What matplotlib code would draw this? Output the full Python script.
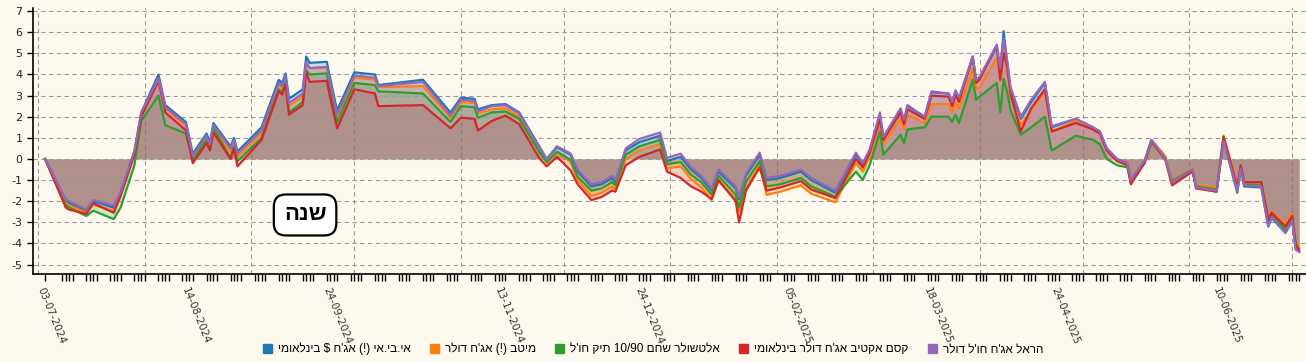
import re
import pandas as pd
import matplotlib
matplotlib.use("Agg")
import matplotlib.pyplot as plt
from matplotlib.patches import Patch

# yearly return chart, 5 funds (values in %)
dates = ["2024-07-03", "2024-07-09", "2024-07-10", "2024-07-15", "2024-07-17", "2024-07-23",
         "2024-07-25", "2024-07-29", "2024-07-31", "2024-08-05", "2024-08-07", "2024-08-13",
         "2024-08-15", "2024-08-19", "2024-08-20", "2024-08-21", "2024-08-26", "2024-08-27",
         "2024-08-28", "2024-09-04", "2024-09-09", "2024-09-10", "2024-09-11", "2024-09-12",
         "2024-09-16", "2024-09-17", "2024-09-18", "2024-09-23", "2024-09-24", "2024-09-26",
         "2024-10-01", "2024-10-07", "2024-10-08", "2024-10-21", "2024-10-29", "2024-11-01",
         "2024-11-05", "2024-11-06", "2024-11-10", "2024-11-14", "2024-11-18", "2024-11-24",
         "2024-11-26", "2024-11-29", "2024-12-03", "2024-12-05", "2024-12-09", "2024-12-12",
         "2024-12-15", "2024-12-16", "2024-12-19", "2024-12-23", "2024-12-29", "2024-12-31",
         "2025-01-04", "2025-01-07", "2025-01-10", "2025-01-13", "2025-01-15", "2025-01-20",
         "2025-01-21", "2025-01-23", "2025-01-27", "2025-01-29", "2025-02-02", "2025-02-08",
         "2025-02-11", "2025-02-18", "2025-02-24", "2025-02-26", "2025-02-28", "2025-03-03",
         "2025-03-04", "2025-03-09", "2025-03-10", "2025-03-11", "2025-03-16", "2025-03-18",
         "2025-03-23", "2025-03-24", "2025-03-25", "2025-03-26", "2025-03-30", "2025-03-31",
         "2025-04-01", "2025-04-06", "2025-04-07", "2025-04-08", "2025-04-09", "2025-04-10",
         "2025-04-13", "2025-04-16", "2025-04-20", "2025-04-22", "2025-04-29", "2025-05-04",
         "2025-05-06", "2025-05-08", "2025-05-11", "2025-05-14", "2025-05-15", "2025-05-19",
         "2025-05-21", "2025-05-25", "2025-05-27", "2025-06-02", "2025-06-03", "2025-06-09",
         "2025-06-11", "2025-06-15", "2025-06-16", "2025-06-17", "2025-06-22", "2025-06-24",
         "2025-06-25", "2025-06-29", "2025-07-01", "2025-07-02", "2025-07-03"]

ibi = [0, -1.95, -2.1, -2.45, -2.0, -2.3, -1.6, 0.3, 2.2, 4.0, 2.55, 1.75,
       0.25, 1.2, 0.8, 1.7, 0.6, 1.0, 0.35, 1.5, 3.75, 3.6, 4.05, 2.85,
       3.3, 4.85, 4.55, 4.6, 3.8, 2.3, 4.1, 4.0, 3.5, 3.75, 2.2, 2.9,
       2.85, 2.35, 2.55, 2.6, 2.2, 0.55, 0.0, 0.55, 0.2, -0.6, -1.3, -1.2,
       -0.9, -1.1, 0.4, 0.8, 1.1, -0.1, 0.1, -0.5, -0.9, -1.5, -0.6, -1.4,
       -1.9, -0.8, 0.2, -1.0, -0.9, -0.6, -1.0, -1.6, 0.2, -0.3, 0.4, 2.0,
       1.0, 2.3, 1.8, 2.5, 2.0, 3.15, 3.1, 2.65, 3.2, 2.85, 4.8, 3.7,
       3.85, 5.3, 4.2, 6.05, 4.6, 3.3, 1.9, 2.7, 3.6, 1.5, 1.9, 1.5,
       1.3, 0.5, 0.0, -0.2, -1.0, -0.1, 0.9, 0.1, -1.1, -0.55, -1.35, -1.55,
       0.9, -1.6, -0.5, -1.3, -1.35, -3.2, -2.8, -3.5, -2.95, -4.25, -4.4]

meitav = [0, -2.1, -2.2, -2.55, -2.15, -2.5, -1.7, 0.3, 2.1, 3.8, 2.4, 1.55,
          0.05, 1.0, 0.6, 1.5, 0.35, 0.8, 0.1, 1.2, 3.5, 3.35, 3.8, 2.5,
          2.95, 4.5, 4.3, 4.35, 3.5, 2.0, 3.85, 3.75, 3.4, 3.45, 1.95, 2.7,
          2.65, 2.15, 2.35, 2.4, 2.0, 0.35, -0.2, 0.3, -0.15, -1.0, -1.75, -1.6,
          -1.3, -1.45, 0.0, 0.4, 0.7, -0.45, -0.35, -0.95, -1.35, -1.95, -1.05, -1.9,
          -2.5, -1.4, -0.3, -1.7, -1.55, -1.25, -1.65, -2.05, -0.2, -0.6, 0.1, 1.7,
          0.7, 1.9, 1.4, 2.1, 1.7, 2.6, 2.6, 2.2, 2.7, 2.4, 4.3, 3.3,
          3.4, 4.8, 3.7, 5.3, 4.2, 3.0, 1.6, 2.3, 3.2, 1.3, 1.8, 1.4,
          1.25, 0.45, -0.05, -0.2, -1.0, -0.1, 0.9, 0.15, -1.0, -0.45, -1.25, -1.35,
          1.1, -1.2, -0.3, -1.1, -1.15, -2.8, -2.5, -3.1, -2.6, -3.9, -4.2]

altshuler = [0, -2.2, -2.3, -2.7, -2.45, -2.85, -2.3, -0.3, 1.8, 3.0, 1.6, 1.2,
             -0.05, 0.9, 0.55, 1.45, 0.05, 0.6, -0.1, 1.0, 3.3, 3.15, 3.6, 2.2,
             2.7, 4.2, 4.0, 4.05, 3.2, 1.75, 3.6, 3.5, 3.2, 3.1, 1.75, 2.5,
             2.45, 1.95, 2.2, 2.25, 1.9, 0.3, -0.15, 0.35, -0.05, -0.85, -1.5, -1.4,
             -1.1, -1.25, 0.2, 0.6, 0.9, -0.25, -0.15, -0.75, -1.1, -1.7, -0.8, -1.7,
             -2.3, -1.1, -0.1, -1.3, -1.2, -0.9, -1.3, -1.8, -0.6, -1.0, -0.3, 1.3,
             0.2, 1.15, 0.75, 1.4, 1.5, 2.0, 2.0, 1.75, 2.1, 1.7, 3.75, 2.8,
             2.95, 3.6, 2.2, 3.8, 3.2, 2.3, 1.15, 1.5, 2.0, 0.4, 1.1, 0.9,
             0.7, 0.0, -0.3, -0.4, -1.1, -0.2, 0.8, 0.0, -1.05, -0.5, -1.3, -1.45,
             1.0, -1.4, -0.4, -1.2, -1.25, -3.0, -2.65, -3.35, -2.8, -4.1, -4.3]

kesem = [0, -2.3, -2.4, -2.6, -2.1, -2.55, -1.75, 0.2, 2.0, 3.7, 2.2, 1.35,
         -0.2, 0.75, 0.4, 1.25, 0.0, 0.5, -0.35, 0.9, 3.2, 3.05, 3.5, 2.1,
         2.55, 4.1, 3.65, 3.7, 2.9, 1.45, 3.3, 3.1, 2.5, 2.55, 1.45, 1.95,
         1.9, 1.35, 1.8, 2.05, 1.65, 0.0, -0.35, 0.1, -0.55, -1.2, -1.95, -1.8,
         -1.5, -1.55, -0.3, 0.1, 0.45, -0.6, -0.9, -1.3, -1.55, -1.9, -1.0, -2.0,
         -3.0, -1.5, -0.4, -1.5, -1.35, -1.05, -1.45, -1.85, 0.0, -0.4, 0.3, 1.9,
         0.9, 2.2, 1.65, 2.35, 1.9, 3.0, 2.95, 2.5, 3.05, 2.7, 4.85, 3.6,
         3.75, 5.4, 3.75, 5.0, 4.4, 3.1, 1.3, 2.4, 3.3, 1.3, 1.7, 1.4,
         1.2, 0.4, -0.1, -0.3, -1.2, -0.2, 0.85, 0.0, -1.25, -0.6, -1.4, -1.55,
         1.05, -1.35, -0.3, -1.1, -1.1, -2.85, -2.55, -3.2, -2.7, -4.0, -4.35]

harel = [0, -1.9, -2.0, -2.4, -1.95, -2.2, -1.55, 0.4, 2.2, 3.8, 2.45, 1.65,
         0.15, 1.1, 0.7, 1.6, 0.5, 0.9, 0.25, 1.35, 3.6, 3.45, 3.95, 2.65,
         3.1, 4.6, 4.3, 4.35, 3.6, 2.1, 3.95, 3.85, 3.45, 3.65, 2.05, 2.8,
         2.75, 2.25, 2.5, 2.55, 2.15, 0.5, 0.0, 0.6, 0.25, -0.5, -1.2, -1.1,
         -0.8, -1.0, 0.5, 0.95, 1.25, 0.05, 0.25, -0.4, -0.8, -1.4, -0.5, -1.3,
         -1.8, -0.7, 0.3, -0.9, -0.8, -0.5, -0.9, -1.5, 0.3, -0.2, 0.45, 2.2,
         1.05, 2.4, 1.85, 2.55, 2.0, 3.2, 3.1, 2.7, 3.25, 2.9, 4.85, 3.75,
         3.9, 5.4, 4.3, 5.7, 4.7, 3.4, 2.0, 2.8, 3.65, 1.55, 1.9, 1.5,
         1.3, 0.5, 0.0, -0.2, -1.0, -0.1, 0.9, 0.05, -1.1, -0.5, -1.35, -1.5,
         0.85, -1.5, -0.45, -1.25, -1.3, -3.2, -2.75, -3.5, -2.9, -4.3, -4.4]

names = ["אי.בי.אי (!) אג'ח $ בינלאומי", "מיטב (!) אג'ח דולר",
         "אלטשולר שחם 10/90 תיק חו'ל", "קסם אקטיב אג'ח דולר בינלאומי",
         "הראל אג'ח חו'ל דולר"]
colors = ["#1f77b4", "#ff7f0e", "#2ca02c", "#d62728", "#9467bd"]

tick_dates = ["2024-07-03", "2024-08-14", "2024-09-24", "2024-11-13", "2024-12-24",
              "2025-02-05", "2025-03-18", "2025-04-24", "2025-06-10"]
y_ticks = list(range(-5, 8))


def rtl(s):
    # no bidi in matplotlib -> flip to visual order, keep numbers
    out = s[::-1]
    out = re.sub(r"[0-9/]+", lambda m: m.group(0)[::-1], out)
    return out.translate(str.maketrans("()", ")("))


bg = "#fdf9ef"
heb = ["Liberation Sans", "DejaVu Sans"]

x = pd.to_datetime(dates)
series = [ibi, meitav, altshuler, kesem, harel]

fig = plt.figure(figsize=(13.06, 3.62), dpi=100, facecolor=bg)
ax = fig.add_axes([0.0253, 0.243, 0.9747, 0.735], facecolor=bg)

for vals, c in zip(series, colors):
    ax.fill_between(x, 0, vals, color=c, alpha=0.22, lw=0)
for vals, c in zip(series, colors):
    ax.plot(x, vals, color=c, lw=1.6)

ax.set_ylim(-5.45, 7.15)
ax.set_xlim(pd.Timestamp("2024-06-29 12:00"), pd.Timestamp("2025-07-05"))

ax.set_yticks(y_ticks)
ax.set_yticklabels([str(v) for v in y_ticks], fontsize=8, color="#222222")
ax.grid(axis="y", color="#999999", ls=(0, (4, 3)), lw=0.8)
for m in pd.date_range("2024-07-01", "2025-07-01", freq="MS"):
    ax.axvline(m, color="#999999", ls=(0, (4, 3)), lw=0.8, zorder=0)

# trading day ticks (Mon-Thu)
trade = pd.bdate_range("2024-07-03", "2025-07-03", freq="C", weekmask="Mon Tue Wed Thu")
trade = trade[trade != pd.Timestamp("2024-07-04")]
ax.set_xticks(trade, minor=True)
ax.set_xticks(pd.to_datetime(tick_dates))
ax.set_xticklabels([pd.Timestamp(d).strftime("%d-%m-%Y") for d in tick_dates],
                   rotation=-68, ha="left", va="top", rotation_mode="anchor",
                   fontsize=7.5, color="#333333")
ax.tick_params(axis="x", which="both", length=5, width=1, color="black")
ax.tick_params(axis="y", length=4, width=1)

for s in ["top", "right"]:
    ax.spines[s].set_visible(False)
ax.spines["left"].set_linewidth(1.2)
ax.spines["bottom"].set_linewidth(1.2)

ax.text(0.2137, 0.222, rtl("שנה"), transform=ax.transAxes, fontsize=16,
        fontweight="bold", ha="center", va="center", family=heb,
        bbox=dict(boxstyle="round,pad=0.45,rounding_size=0.55", fc="white",
                  ec="black", lw=1.6))

handles = [Patch(color=c, label=rtl(n)) for n, c in zip(names, colors)]
fig.legend(handles=handles, loc="center", bbox_to_anchor=(0.5, 0.036), ncol=5,
           frameon=False, handlelength=0.8, handleheight=0.8, handletextpad=0.5,
           columnspacing=1.6, prop={"family": heb, "size": 8.5})

fig.savefig("out.png", dpi=100, facecolor=bg)
